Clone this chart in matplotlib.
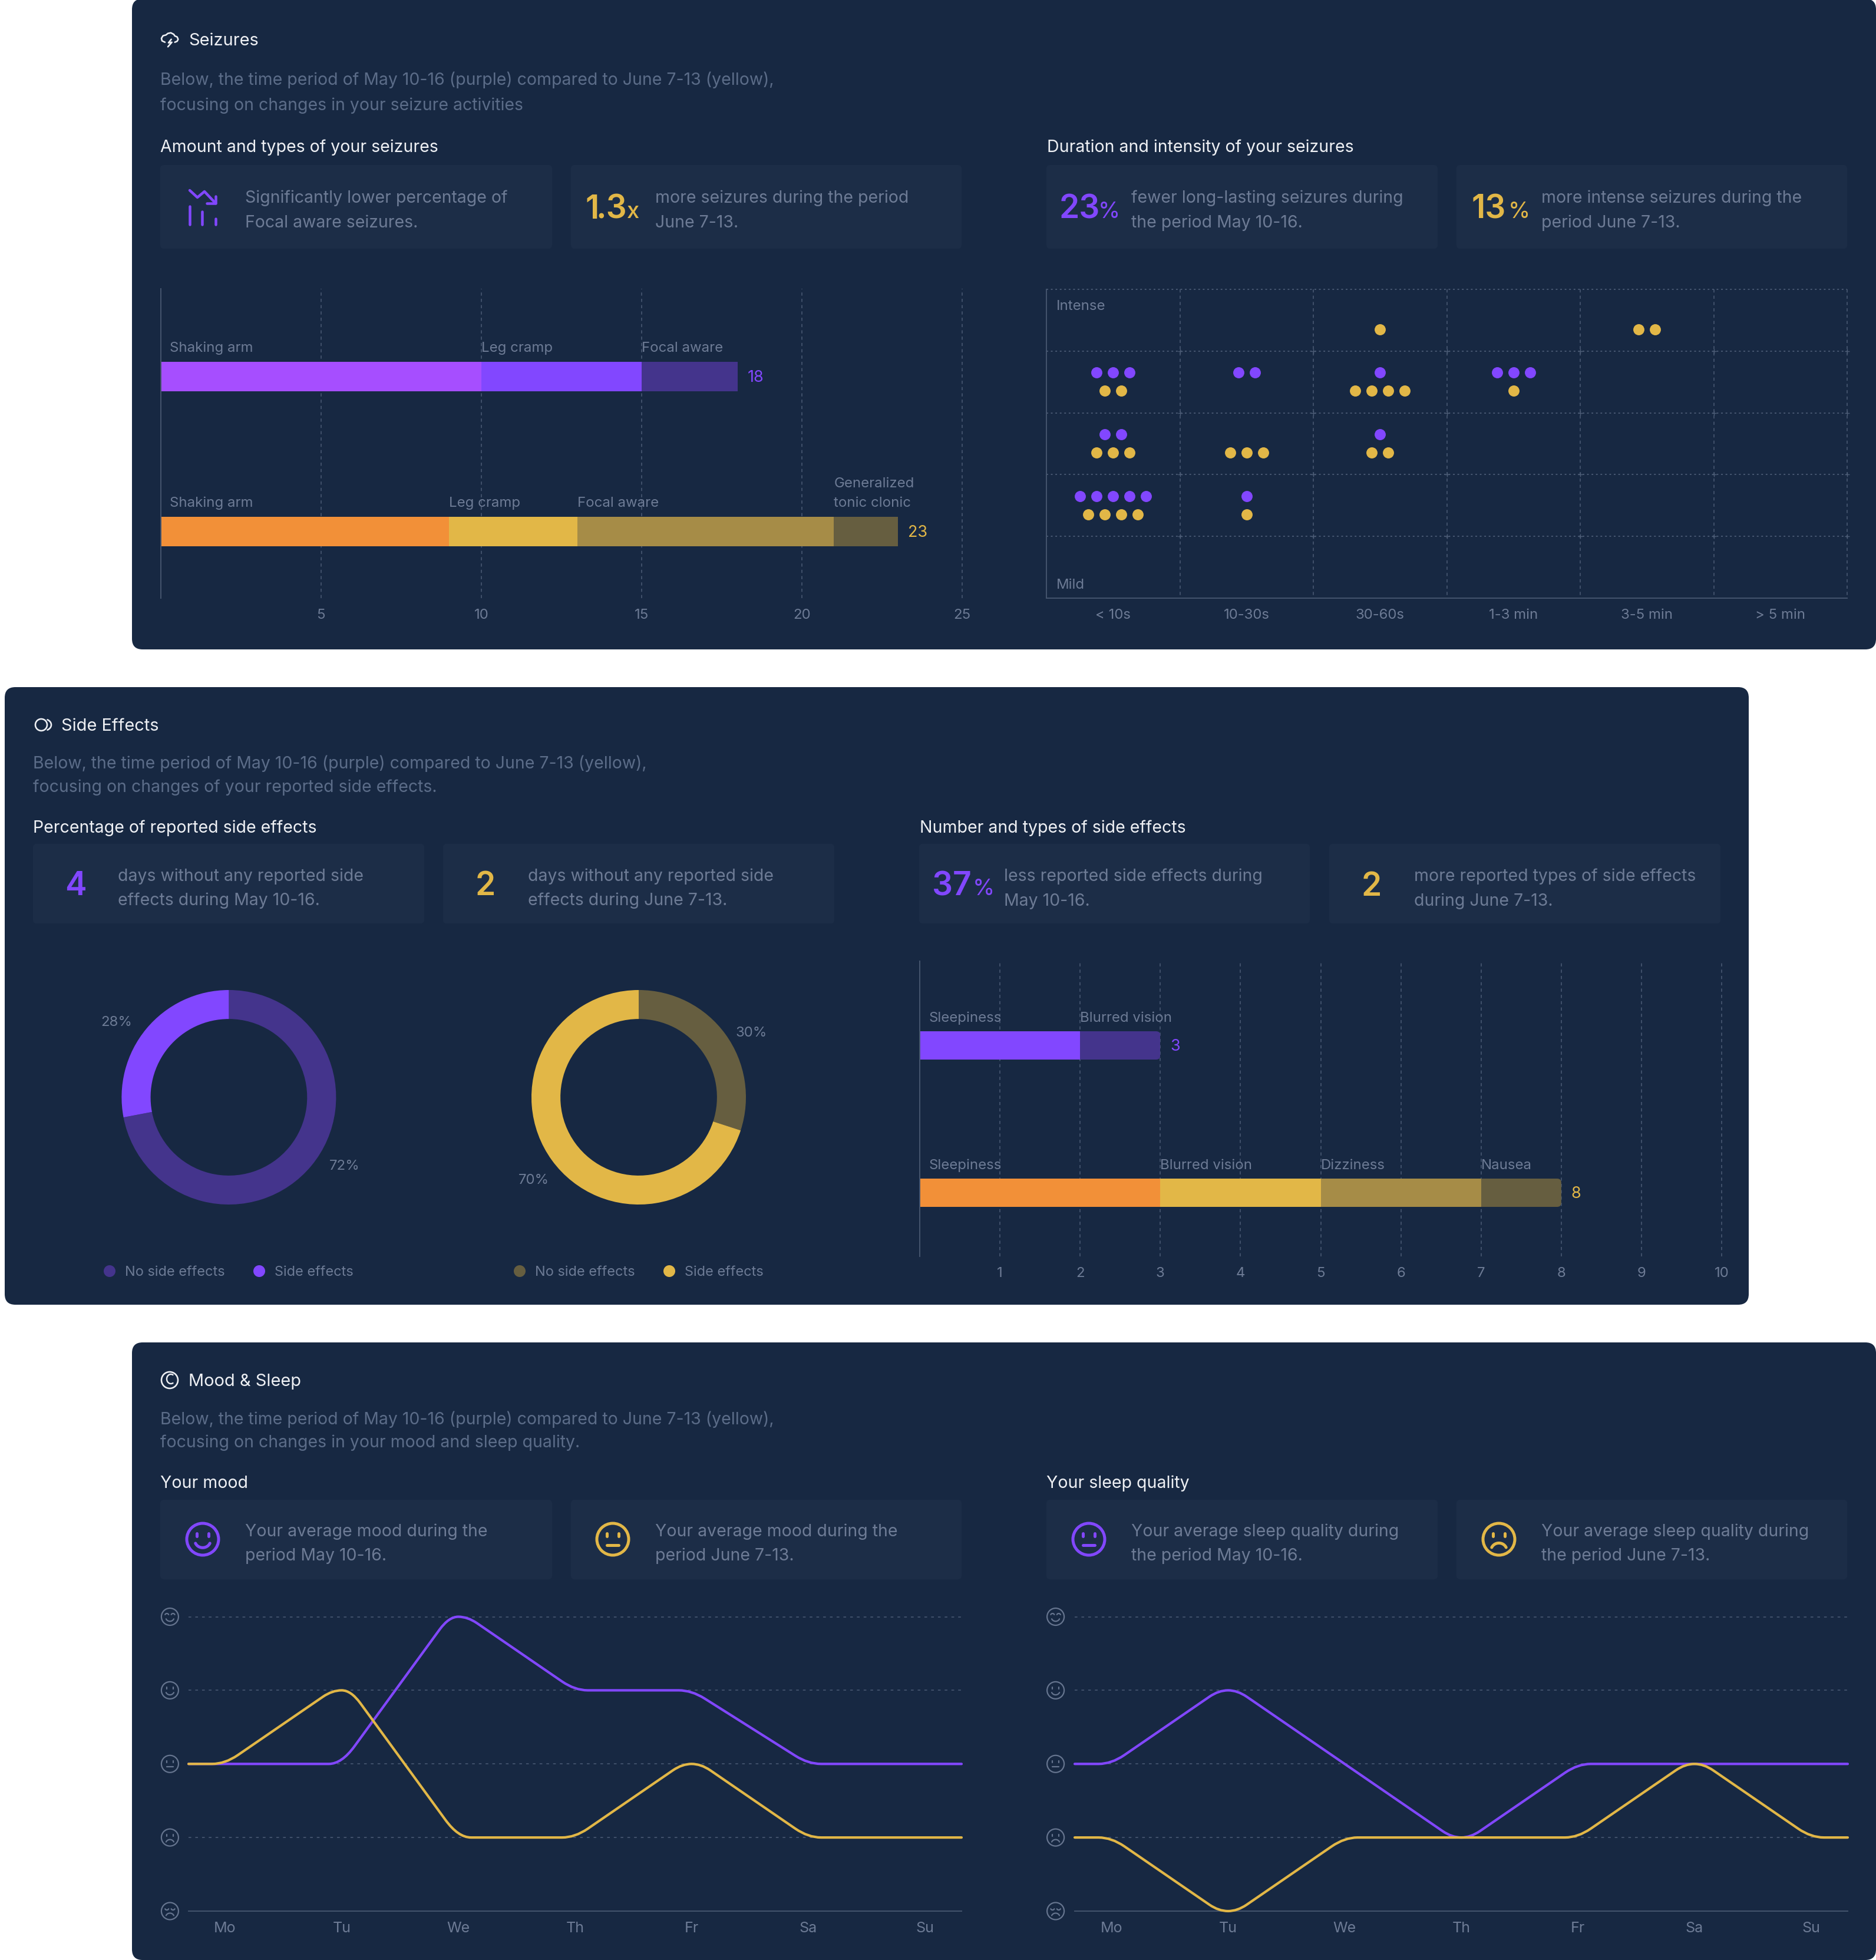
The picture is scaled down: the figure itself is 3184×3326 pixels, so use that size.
import numpy as np
import matplotlib
matplotlib.use('Agg')
import matplotlib.pyplot as plt
from matplotlib.patches import FancyBboxPatch, Circle, PathPatch
from matplotlib.path import Path
from matplotlib.transforms import IdentityTransform

plt.rcParams['font.family'] = ['Inter', 'DejaVu Sans']

# ---- data ----
seizure_may_names = ['Shaking arm', 'Leg cramp', 'Focal aware']
seizure_may_vals = [10, 5, 3]
seizure_june_names = ['Shaking arm', 'Leg cramp', 'Focal aware', 'Generalized\ntonic clonic']
seizure_june_vals = [9, 4, 8, 2]
seizure_ticks = [5, 10, 15, 20, 25]

duration_labels = ['< 10s', '10-30s', '30-60s', '1-3 min', '3-5 min', '> 5 min']
dots_purple = [[0, 0, 0, 0, 0, 0],
               [3, 2, 1, 3, 0, 0],
               [2, 0, 1, 0, 0, 0],
               [5, 1, 0, 0, 0, 0],
               [0, 0, 0, 0, 0, 0]]
dots_yellow = [[0, 0, 1, 0, 2, 0],
               [2, 0, 4, 1, 0, 0],
               [3, 3, 2, 0, 0, 0],
               [4, 1, 0, 0, 0, 0],
               [0, 0, 0, 0, 0, 0]]

donut_may = [72, 28]
donut_june = [30, 70]

side_may_names = ['Sleepiness', 'Blurred vision']
side_may_vals = [2, 1]
side_june_names = ['Sleepiness', 'Blurred vision', 'Dizziness', 'Nausea']
side_june_vals = [3, 2, 2, 1]
side_ticks = list(range(1, 11))

days = ['Mo', 'Tu', 'We', 'Th', 'Fr', 'Sa', 'Su']
mood_may = [3, 3, 5, 4, 4, 3, 3]
mood_june = [3, 4, 2, 2, 3, 2, 2]
sleep_may = [3, 4, 3, 2, 3, 3, 3]
sleep_june = [2, 1, 2, 2, 2, 3, 2]

# ---- colours ----
PANEL = '#172842'
CARD = '#1c2d47'
DIM = '#5b6c88'
LABEL = '#6d7b95'
WHITE = '#eef0f4'
GRID = '#4c5c76'
AXIS = '#45556e'
P1 = '#a64eff'
P2 = '#8247ff'
P3 = '#44348c'
Y0 = '#f29038'
Y1 = '#e2b747'
Y2 = '#a68c47'
Y3 = '#665e40'

W, H = 3184, 3326
PT = 72 / 100  # pixels -> points

fig = plt.figure(figsize=(W / 100, H / 100), dpi=100, facecolor='white')
bg = fig.add_axes([0, 0, 1, 1])
bg.set_xlim(0, W)
bg.set_ylim(H, 0)
bg.axis('off')


def box(x0, y0, x1, y1, r, color):
    bg.add_patch(FancyBboxPatch((x0 + r, y0 + r), x1 - x0 - 2 * r, y1 - y0 - 2 * r,
                                boxstyle='round,pad=%s,rounding_size=%s' % (r, r),
                                fc=color, ec='none'))


def txt(x, yc, s, px, color, weight='normal', ha='left'):
    # yc is the middle of the capitals, the baseline sits below it
    bg.text(x, yc + 0.36 * px, s, fontsize=px * PT, color=color, fontweight=weight,
            ha=ha, va='baseline')


def sub_axes(x0, y0, x1, y1):
    a = fig.add_axes([x0 / W, 1 - y1 / H, (x1 - x0) / W, (y1 - y0) / H])
    a.patch.set_alpha(0)
    return a


def stroke(xs, ys, color, px):
    bg.plot(xs, ys, color=color, lw=px * PT, solid_capstyle='round', solid_joinstyle='round')


def arc(cx, cy, rx, ry, a0, a1, color, px):
    t = np.radians(np.linspace(a0, a1, 40))
    stroke(cx + rx * np.cos(t), cy - ry * np.sin(t), color, px)


def face(cx, cy, r, level, color, px):
    bg.add_patch(Circle((cx, cy), r, fc='none', ec=color, lw=px * PT))
    ex = r * 0.36
    ey = cy - r * 0.28
    if level in (2, 3, 4):
        for s in (-1, 1):
            stroke([cx + s * ex, cx + s * ex], [ey - r * 0.1, ey + r * 0.1], color, px)
    elif level == 5:
        for s in (-1, 1):
            arc(cx + s * ex, ey + r * 0.1, r * 0.22, r * 0.2, 20, 160, color, px)
    else:
        for s in (-1, 1):
            arc(cx + s * ex, ey - r * 0.05, r * 0.22, r * 0.2, 200, 340, color, px)
    if level >= 4:
        arc(cx, cy + r * 0.05, r * 0.5, r * 0.48, 205, 335, color, px)
    elif level == 3:
        stroke([cx - r * 0.38, cx + r * 0.38], [cy + r * 0.36, cy + r * 0.36], color, px)
    else:
        arc(cx, cy + r * 0.72, r * 0.5, r * 0.48, 25, 155, color, px)


def card(x0, y0, x1, y1):
    box(x0, y0, x1, y1, 6, CARD)


def card_text(x, y1, y2, line1, line2):
    txt(x, y1, line1, CARD_PX, LABEL)
    txt(x, y2, line2, CARD_PX, LABEL)


def style_bars(a, ticks):
    a.set_xticks(ticks)
    a.set_yticks([])
    a.tick_params(axis='x', length=0, pad=18 * PT, labelsize=SMALL_PX * PT, labelcolor=LABEL)
    a.grid(axis='x', color=GRID, lw=1.1, linestyle=(0, (3.5, 3.5)))
    a.set_axisbelow(True)
    for gl in a.get_xgridlines():
        gl.set_clip_on(False)
    for sp in ('top', 'right', 'bottom'):
        a.spines[sp].set_visible(False)
    a.spines['left'].set_color(AXIS)
    a.spines['left'].set_linewidth(1.4)


def stacked(a, row, vals, names, colors, total_color, h, lab_off, first_dx, round_end=False):
    left = 0
    bar = None
    for i, (v, n, c) in enumerate(zip(vals, names, colors)):
        bar = a.barh(row, v, left=left, height=h, color=c, linewidth=0)[0]
        a.annotate(n, (left, row), xytext=((first_dx if i == 0 else 0) * PT, lab_off * PT),
                   textcoords='offset points', fontsize=SMALL_PX * PT, color=LABEL,
                   va='baseline', ha='left', linespacing=1.62)
        left += v
    if round_end:
        # only the far end of the last segment is rounded
        e = bar.get_window_extent()
        bar.set_clip_path(FancyBboxPatch((e.x0 - 30, e.y0), e.width + 30, e.height,
                                         boxstyle='round,pad=0,rounding_size=7',
                                         transform=IdentityTransform()))
    a.annotate(str(left), (left, row), xytext=(17 * PT, -9 * PT), textcoords='offset points',
               fontsize=(SMALL_PX + 3) * PT, color=total_color, va='baseline', ha='left')


def rounded_line(xs, ys, cut=0.11, flat=0.08):
    # polyline with rounded corners; a peak gets a short flat top so it reaches its level
    px, py = [xs[0]], [ys[0]]
    for i in range(1, len(xs) - 1):
        if (ys[i] - ys[i - 1]) * (ys[i + 1] - ys[i]) < 0:
            px += [xs[i] - flat, xs[i] + flat]
            py += [ys[i], ys[i]]
        else:
            px.append(xs[i])
            py.append(ys[i])
    px.append(xs[-1])
    py.append(ys[-1])
    verts = [(px[0], py[0])]
    codes = [Path.MOVETO]
    for i in range(1, len(px) - 1):
        w0, w1 = px[i] - px[i - 1], px[i + 1] - px[i]
        s0, s1 = (py[i] - py[i - 1]) / w0, (py[i + 1] - py[i]) / w1
        if abs(s0 - s1) < 1e-9:
            continue
        c = min(cut, w0 / 2, w1 / 2)
        verts += [(px[i] - c, py[i] - s0 * c), (px[i], py[i]), (px[i] + c, py[i] + s1 * c)]
        codes += [Path.LINETO, Path.CURVE3, Path.CURVE3]
    verts.append((px[-1], py[-1]))
    codes.append(Path.LINETO)
    return Path(verts, codes)


def line_chart(x0, x1, day0, step, may, june, icon_x):
    top, bottom = 2743.5, 3243
    a = sub_axes(x0, top, x1, bottom)
    lo, hi = (x0 - day0) / step, (x1 - day0) / step
    a.set_xlim(lo, hi)
    a.set_ylim(1, 5)
    a.set_xticks(range(len(days)))
    a.set_xticklabels(days)
    a.set_yticks([])
    a.tick_params(axis='x', length=0, pad=18 * PT, labelsize=(SMALL_PX + 1) * PT, labelcolor=LABEL)
    for sp in ('top', 'right', 'left'):
        a.spines[sp].set_visible(False)
    a.spines['bottom'].set_color(AXIS)
    a.spines['bottom'].set_linewidth(1.4)
    a.hlines([2, 3, 4, 5], lo, hi, color=GRID, lw=1.1, linestyle=(0, (3, 4.5)), clip_on=False)
    for vals, col in ((may, P2), (june, Y1)):
        xs = [lo] + list(range(len(vals))) + [hi]
        ys = [vals[0]] + list(vals) + [vals[-1]]
        a.add_patch(PathPatch(rounded_line(xs, ys), fc='none', ec=col, lw=4.2 * PT,
                              capstyle='round', joinstyle='round', clip_on=False, zorder=3))
    for level in range(1, 6):
        face(icon_x, bottom - (level - 1) * (bottom - top) / 4, 14.5, level, '#66758f', 2.2)


def donut(cx, vals, colors, labels, legend_dots):
    cy, r = 1862, 182
    a = sub_axes(cx - r, cy - r, cx + r, cy + r)
    a.pie(vals, colors=colors, startangle=90, counterclock=False, radius=1,
          wedgeprops={'width': 0.27, 'linewidth': 0})
    a.set_xlim(-1, 1)
    a.set_ylim(-1, 1)
    for lx, ly, s in labels:
        txt(lx, ly, s, SMALL_PX, LABEL, ha='center')
    for dx, tx, col, s in legend_dots:
        bg.add_patch(Circle((dx, 2157), 10, fc=col, ec='none'))
        txt(tx, 2157, s, 23.5, LABEL)


TITLE_PX = 29
SUB_PX = 28.4
SEC_PX = 28.5
CARD_PX = 28.4
SMALL_PX = 24
BIG_PX = 55
UNIT_PX = 38
BIG_W = 'semibold'

# ---- panels ----
box(224, -2, 3184, 1102, 18, PANEL)
box(8, 1166, 2968, 2214, 18, PANEL)
box(224, 2278, 3184, 3326, 18, PANEL)

# ---- panel 1: seizures ----
cloud_x = 260 + np.array([60, 45, 42, 50, 65, 75, 90, 105, 110, 122, 127, 122, 110]) / 3
cloud_y = 30 + np.array([125, 118, 105, 92, 88, 80, 77, 85, 93, 98, 110, 120, 125]) / 3
stroke(cloud_x, cloud_y, WHITE, 2.6)
stroke(260 + np.array([92, 78, 95, 75]) / 3, 30 + np.array([110, 128, 125, 148]) / 3, WHITE, 2.6)
txt(320, 67, 'Seizures', TITLE_PX, WHITE)
txt(272, 134, 'Below, the time period of May 10-16 (purple) compared to June 7-13 (yellow),', SUB_PX, DIM)
txt(272, 177, 'focusing on changes in your seizure activities', SUB_PX, DIM)
txt(272, 248, 'Amount and types of your seizures', SEC_PX, WHITE)
txt(1777, 248, 'Duration and intensity of your seizures', SEC_PX, WHITE)
for x0, x1 in ((272, 937), (969, 1632), (1776, 2440), (2472, 3135)):
    card(x0, 280, x1, 422)
stroke([322, 335, 347, 366], [323, 335, 325, 345], P2, 4.5)
stroke([366, 366, 351], [333, 345, 345], P2, 4.5)
for bx, by in ((322, 350), (343, 359), (366, 371)):
    stroke([bx, bx], [by, 381], P2, 4.5)
card_text(416, 334, 376, 'Significantly lower percentage of', 'Focal aware seizures.')
txt(993, 351, '1', BIG_PX, Y1, BIG_W)
txt(1012, 351, '.3', BIG_PX, Y1, BIG_W)
txt(1064, 356, 'x', UNIT_PX, Y1, 'medium')
card_text(1112, 334, 376, 'more seizures during the period', 'June 7-13.')
txt(1798, 351, '23', BIG_PX, P2, BIG_W)
txt(1864, 356, '%', UNIT_PX, P2)
card_text(1920, 334, 376, 'fewer long-lasting seizures during', 'the period May 10-16.')
txt(2497, 351, '13', BIG_PX, Y1, BIG_W)
txt(2560, 356, '%', UNIT_PX, Y1)
card_text(2616, 334, 376, 'more intense seizures during the', 'period June 7-13.')

ax = sub_axes(272.6, 490, 1633, 1015)
style_bars(ax, seizure_ticks)
ax.set_xlim(0, 25)
ax.set_ylim(1.43, -0.567)
stacked(ax, 0, seizure_may_vals, seizure_may_names, [P1, P2, P3], P2, 0.19, 42, 15)
stacked(ax, 1, seizure_june_vals, seizure_june_names, [Y0, Y1, Y2, Y3], Y1, 0.19, 42, 15)

ax = sub_axes(1776, 491, 3135, 1015)
ax.set_xlim(0, 6)
ax.set_ylim(5, 0)
ax.vlines(range(1, 7), 0, 5, color=GRID, lw=1.1, linestyle=(0, (3.5, 3.5)), clip_on=False)
ax.hlines(range(0, 5), 0, 6, color=GRID, lw=1.3, linestyle=(0, (1.6, 2.6)), clip_on=False)
cross_x, cross_y = np.meshgrid(range(1, 7), range(1, 5))
ax.scatter(cross_x.ravel(), cross_y.ravel(), marker='+', s=30, color=GRID, linewidths=1, clip_on=False)
for counts, col, off in ((dots_purple, P2, -0.152), (dots_yellow, Y1, 0.145)):
    for r, row in enumerate(counts):
        for c, n in enumerate(row):
            if n:
                xs = c + 0.5 + (np.arange(n) - (n - 1) / 2) * 0.1236
                ax.scatter(xs, [r + 0.5 + off] * n, s=185, color=col, linewidths=0, zorder=3)
ax.set_xticks(np.arange(len(duration_labels)) + 0.5)
ax.set_xticklabels(duration_labels)
ax.set_yticks([])
ax.tick_params(axis='x', length=0, pad=18 * PT, labelsize=SMALL_PX * PT, labelcolor=LABEL)
for sp in ('top', 'right'):
    ax.spines[sp].set_visible(False)
for sp in ('left', 'bottom'):
    ax.spines[sp].set_color(AXIS)
    ax.spines[sp].set_linewidth(1.4)
txt(1793, 517, 'Intense', SMALL_PX, LABEL)
txt(1793, 990, 'Mild', SMALL_PX, LABEL)

# ---- panel 2: side effects ----
bg.add_patch(Circle((70, 1230), 10, fc='none', ec=WHITE, lw=2.6 * PT))
arc(74, 1230, 13, 10, -60, 60, WHITE, 2.6)
txt(104, 1230, 'Side Effects', TITLE_PX, WHITE)
txt(56, 1294, 'Below, the time period of May 10-16 (purple) compared to June 7-13 (yellow),', SUB_PX, DIM)
txt(56, 1334, 'focusing on changes of your reported side effects.', SUB_PX, DIM)
txt(56, 1403, 'Percentage of reported side effects', SEC_PX, WHITE)
txt(1561, 1403, 'Number and types of side effects', SEC_PX, WHITE)
for x0, x1 in ((56, 720), (752, 1416), (1560, 2223), (2256, 2920)):
    card(x0, 1432, x1, 1567)
txt(128, 1499, '4', BIG_PX, P2, BIG_W, ha='center')
card_text(200, 1485, 1526, 'days without any reported side', 'effects during May 10-16.')
txt(824, 1499, '2', BIG_PX, Y1, BIG_W, ha='center')
card_text(896, 1485, 1526, 'days without any reported side', 'effects during June 7-13.')
txt(1582, 1500, '37', BIG_PX, P2, BIG_W)
txt(1651, 1505, '%', UNIT_PX, P2)
card_text(1704, 1485, 1527, 'less reported side effects during', 'May 10-16.')
txt(2328, 1500, '2', BIG_PX, Y1, BIG_W, ha='center')
card_text(2400, 1485, 1527, 'more reported types of side effects', 'during June 7-13.')

donut(388.4, donut_may, [P3, P2],
      [(198, 1732, '28%'), (585, 1976, '72%')],
      [(186, 212, P3, 'No side effects'), (440, 466, P2, 'Side effects')])
donut(1084, donut_june, [Y3, Y1],
      [(1275, 1750, '30%'), (906, 2000, '70%')],
      [(882, 908, Y3, 'No side effects'), (1136, 1162, Y1, 'Side effects')])

ax = sub_axes(1561, 1631.5, 2922, 2132)
style_bars(ax, side_ticks)
ax.set_xlim(0, 10)
ax.set_ylim(1.432, -0.57)
stacked(ax, 0, side_may_vals, side_may_names, [P2, P3], P2, 0.192, 40, 15, round_end=True)
stacked(ax, 1, side_june_vals, side_june_names, [Y0, Y1, Y2, Y3], Y1, 0.192, 40, 15, round_end=True)

# ---- panel 3: mood and sleep ----
bg.add_patch(Circle((288, 2342), 14, fc='none', ec=WHITE, lw=2.6 * PT))
arc(290, 2340, 7, 8, 60, 300, WHITE, 2.4)
txt(320, 2342, 'Mood & Sleep', TITLE_PX, WHITE)
txt(272, 2407, 'Below, the time period of May 10-16 (purple) compared to June 7-13 (yellow),', SUB_PX, DIM)
txt(272, 2446, 'focusing on changes in your mood and sleep quality.', SUB_PX, DIM)
txt(272, 2515, 'Your mood', SEC_PX, WHITE)
txt(1776, 2515, 'Your sleep quality', SEC_PX, WHITE)
for x0, x1 in ((272, 937), (969, 1632), (1776, 2440), (2472, 3135)):
    card(x0, 2545, x1, 2680)
face(344, 2612, 27, 4, P2, 5)
card_text(416, 2597, 2638, 'Your average mood during the', 'period May 10-16.')
face(1040, 2612, 27, 3, Y1, 5)
card_text(1112, 2597, 2638, 'Your average mood during the', 'period June 7-13.')
face(1848, 2612, 27, 3, P2, 5)
card_text(1920, 2597, 2638, 'Your average sleep quality during', 'the period May 10-16.')
face(2544, 2612, 27, 2, Y1, 5)
card_text(2616, 2597, 2638, 'Your average sleep quality during', 'the period June 7-13.')

line_chart(320, 1632, 381.8, 198, mood_may, mood_june, 288.4)
line_chart(1824, 3136, 1886.4, 197.9, sleep_may, sleep_june, 1791.6)

fig.savefig('out.png', dpi=100, facecolor='white')
